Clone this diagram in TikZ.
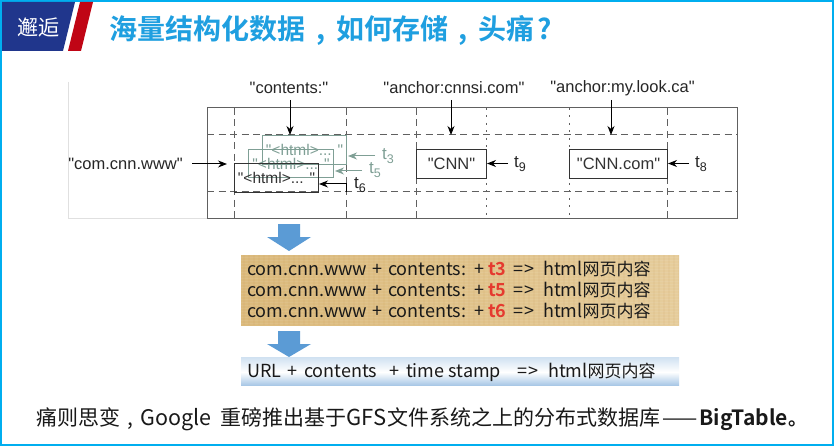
\documentclass[tikz,border=0pt]{standalone}
\usepackage{fontspec}
\setmainfont{Liberation Sans}
\newfontfamily\labelfont{Liberation Sans}
\newfontfamily\cjk{Noto Sans CJK SC}
\newfontfamily\cjkb{Noto Sans CJK SC Bold}
\usetikzlibrary{arrows.meta}
\definecolor{frameblue}{HTML}{00AEEF}
\definecolor{navy}{HTML}{20368C}
\definecolor{flagred}{HTML}{C00515}
\definecolor{titleblue}{HTML}{1F9FE0}
\definecolor{gridgray}{HTML}{606060}
\definecolor{sagegreen}{HTML}{7F9F95}
\definecolor{arrowblue}{HTML}{5B9BD5}
\definecolor{tanA}{HTML}{DBBA7C}
\definecolor{tanB}{HTML}{E6CD9C}
\definecolor{hotred}{HTML}{E53A2F}
\definecolor{stripblue}{HTML}{A9C8E6}
\newcommand{\tsub}[1]{t\raisebox{-3.5pt}{\fontsize{12.5}{13}\selectfont #1}}
\newcommand{\cellline}[1]{\raisebox{-2pt}{\fontsize{15.5}{17}\selectfont #1}}
\newcommand{\rowline}[1]{\makebox[125pt][l]{com.cnn.www}\makebox[16pt][l]{+}\makebox[86pt][l]{contents:}\makebox[14pt][l]{+}\makebox[25pt][l]{\textcolor{hotred}{\cjkb #1}}\makebox[30pt][l]{=\kern1pt>}html{\fontsize{17}{20}\selectfont 网页内容}}
\tikzset{
  gridsolid/.style={draw=gridgray,line width=1pt},
  griddash/.style={draw=gridgray,line width=1pt,dash pattern=on 7pt off 4.5pt},
  griddot/.style={draw=gridgray,line width=1pt,dash pattern=on 2pt off 5.5pt},
  cell/.style={draw=#1,line width=1pt,inner sep=0pt,text=#1,font=\labelfont\fontsize{16.5}{18}\selectfont,anchor=north west},
  collabel/.style={font=\labelfont\fontsize{16.5}{18}\selectfont,text=black!85,inner sep=1pt},
  tlabel/.style={font=\labelfont\fontsize{17}{18}\selectfont,inner sep=0pt},
  pointer/.style={draw=#1,line width=1pt,-{Stealth[length=9pt,width=7pt]}},
  bigarrow/.style={fill=arrowblue,draw=none},
  rowtext/.style={font=\cjk\fontsize{18}{20}\selectfont,anchor=west,inner sep=0pt,text=black!90},
}
\begin{document}
\begin{tikzpicture}[x=1pt,y=-1pt]
\useasboundingbox (0,0) rectangle (834,446);
\fill[white] (0,0) rectangle (834,446);
% frame
\draw[frameblue,line width=2pt] (1,1) rectangle (833,445);
% header
\fill[navy] (2,2) -- (75,2) -- (63,51) -- (2,51) -- cycle;
\fill[flagred] (80,2) -- (93,2) -- (81,51) -- (68,51) -- cycle;
\node[text=white,font=\cjk\fontsize{21}{22}\selectfont,inner sep=0pt] (tag) at (38,27) {邂逅};
\node[text=titleblue,font=\cjkb\fontsize{28}{30}\selectfont,inner sep=0pt,anchor=west] (title) at (109,30) {海量结构化数据\makebox[31pt][c]{,}如何存储\makebox[30pt][c]{,}头痛\makebox[22pt][c]{?}};
% image edge
\draw[black!12,line width=1pt] (68,82) -- (68,219) -- (207,219);
% table grid
\draw[griddash] (207,135) -- (737,135);
\draw[griddash] (207,192) -- (737,192);
\draw[griddash] (234,108) -- (234,219);
\draw[griddash] (346,108) -- (346,219);
\draw[griddash] (416,108) -- (416,219);
\draw[griddot] (486,108) -- (486,219);
\draw[griddot] (569,108) -- (569,219);
\draw[griddash] (667,108) -- (667,219);
\draw[gridsolid] (207,108) rectangle (737,219);
% cells
\node[cell=sagegreen,minimum width=84pt,minimum height=29pt] (v3) at (262,135) {\cellline{"<html>... "}};
\node[cell=sagegreen,minimum width=85pt,minimum height=28pt] (v5) at (248,149) {\cellline{"<html>... "}};
\node[cell=black!80,minimum width=84pt,minimum height=29pt] (v6) at (234,163) {\cellline{"<html>... "}};
\node[cell=black!80,minimum width=70pt,minimum height=29pt] (cnn) at (416,149) {"CNN"};
\node[cell=black!80,minimum width=98pt,minimum height=29pt] (cnncom) at (569,149) {"CNN.com"};
% labels
\node[collabel] (row) at (125.5,164) {"com.cnn.www"};
\node[collabel] (contents) at (289,88) {"contents:"};
\node[collabel] (anchA) at (454,88) {"anchor:cnnsi.com"};
\node[collabel] (anchB) at (622.5,88) {"anchor:my.look.ca"};
\coordinate (contentsEnd) at (290,135);
\coordinate (anchAEnd) at (451,135);
\coordinate (anchBEnd) at (611,135);
\coordinate (contentsStart) at (290,100);
\coordinate (anchAStart) at (451,100);
\coordinate (anchBStart) at (611,100);
\coordinate (rowStart) at (192,164);
\coordinate (rowEnd) at (227,164);
\draw[pointer=black] (contentsStart) -- (contentsEnd);
\draw[pointer=black] (anchAStart) -- (anchAEnd);
\draw[pointer=black] (anchBStart) -- (anchBEnd);
\draw[pointer=black] (rowStart) -- (rowEnd);
% time labels
\node[tlabel,text=sagegreen] (t3) at (388,156) {\tsub{3}};
\node[tlabel,text=sagegreen] (t5) at (375,170) {\tsub{5}};
\node[tlabel,text=black!85] (t6) at (360,185) {\tsub{6}};
\node[tlabel,text=black!85] (t9) at (520,164) {\tsub{9}};
\node[tlabel,text=black!85] (t8) at (701,164) {\tsub{8}};
\coordinate (t3s) at (375,156);
\coordinate (t3e) at (348,156);
\coordinate (t5s) at (362,171);
\coordinate (t5e) at (335,171);
\coordinate (t6a) at (346,192);
\coordinate (t6b) at (346,184);
\coordinate (t6e) at (319,184);
\coordinate (t9s) at (508,163.5);
\coordinate (t9e) at (487,163.5);
\coordinate (t8s) at (689,163.5);
\coordinate (t8e) at (668,163.5);
\draw[pointer=sagegreen] (t3s) -- (t3e);
\draw[pointer=sagegreen] (t5s) -- (t5e);
\draw[pointer=black] (t6a) -- (t6b) -- (t6e);
\draw[pointer=black] (t9s) -- (t9e);
\draw[pointer=black] (t8s) -- (t8e);
% block arrows
\fill[bigarrow] (278,224) -- (300,224) -- (300,237) -- (311,237) -- (289,251) -- (267,237) -- (278,237) -- cycle;
\fill[bigarrow] (278,331) -- (300,331) -- (300,344) -- (311,344) -- (289,357) -- (267,344) -- (278,344) -- cycle;
% text panels
\node[left color=tanA,right color=tanB,middle color=tanA!55!tanB,minimum width=438pt,minimum height=70pt,inner sep=0pt,anchor=north west] (panelA) at (241,255) {};
\begin{scope}
\clip (241,255) rectangle (679,325);
\foreach \yy in {257,260,...,325} {\draw[white,opacity=.07,line width=1pt] (241,\yy) -- (679,\yy);}
\foreach \xx in {244,249,...,679} {\draw[brown,opacity=.06,line width=1.5pt] (\xx,255) -- (\xx,325);}
\end{scope}
\fill[top color=stripblue!55,bottom color=white] (241,357) rectangle (679,372);
\fill[top color=white,bottom color=stripblue] (241,372) rectangle (679,385);
\node[minimum width=438pt,minimum height=28pt,inner sep=0pt,anchor=north west] (panelB) at (241,357) {};
\node[rowtext] (l1) at (247,269) {\rowline{t3}};
\node[rowtext] (l2) at (247,290) {\rowline{t5}};
\node[rowtext] (l3) at (247,311) {\rowline{t6}};
\node[rowtext] (l4) at (247,372) {\makebox[40pt][l]{URL}\makebox[17pt][l]{+}\makebox[85pt][l]{contents}\makebox[17pt][l]{+}\makebox[111pt][l]{time stamp}\makebox[31pt][l]{=\kern1pt>}html{\fontsize{17}{20}\selectfont 网页内容}};
% bottom
\node[font=\cjk\fontsize{21}{22}\selectfont,inner sep=0pt,anchor=west,text=black!90] (foot) at (36,419) {痛则思变\makebox[20pt][c]{,}{\fontsize{21.5}{22}\selectfont Google}\hspace{9pt}重磅推出基于{\fontsize{22}{22}\selectfont GFS}\hspace{1pt}文件系统之上的分布式数据库\hspace{2pt}——\hspace{2pt}{\cjkb\fontsize{21}{22}\selectfont BigTable}{\cjkb\fontsize{19}{20}\selectfont 。}};
\end{tikzpicture}
\end{document}
